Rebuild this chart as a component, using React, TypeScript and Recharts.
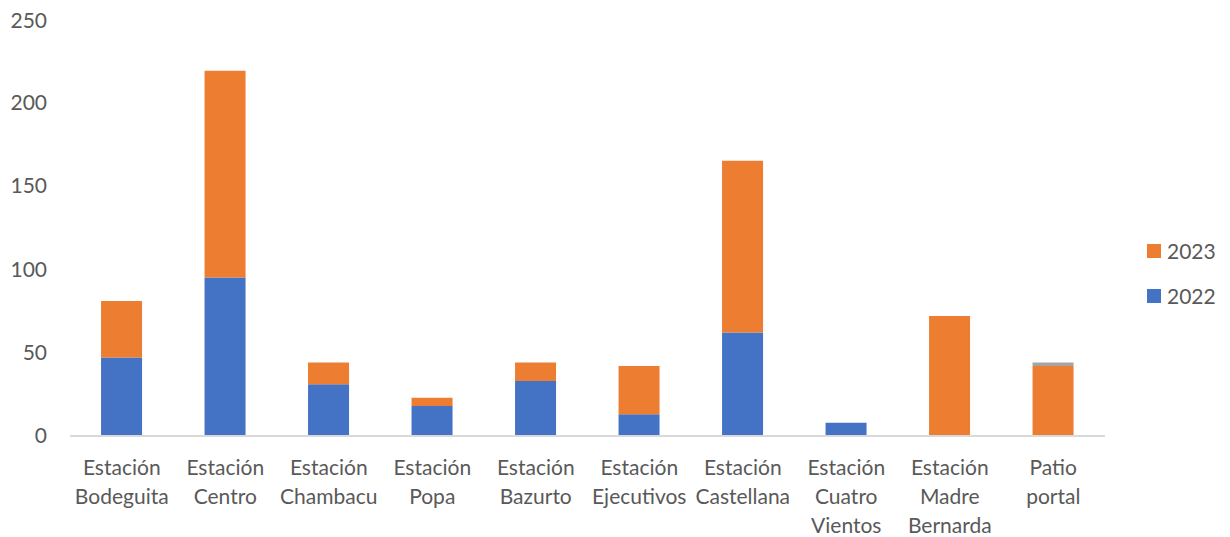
import React from "react";
import { BarChart, Bar, XAxis, YAxis } from "recharts";

const categories = [
  "Estación Bodeguita",
  "Estación Centro",
  "Estación Chambacu",
  "Estación Popa",
  "Estación Bazurto",
  "Estación Ejecutivos",
  "Estación Castellana",
  "Estación Cuatro Vientos",
  "Estación Madre Bernarda",
  "Patio portal",
];
const values2022 = [47, 95, 31, 18, 33, 13, 62, 8, 0, 0];
const values2023 = [34, 124, 13, 5, 11, 29, 103, 0, 72, 42];
const valuesOther = [0, 0, 0, 0, 0, 0, 0, 0, 0, 2];
const yTicks = [0, 50, 100, 150, 200, 250];
const legendItems = [
  { name: "2023", color: "#ED7D31" },
  { name: "2022", color: "#4472C4" },
];

const data = categories.map((c, i) => ({
  name: c,
  y2022: values2022[i],
  y2023: values2023[i],
  other: valuesOther[i],
}));

const FONT = "Lato, 'Open Sans', sans-serif";
const TEXT = "#595959";
const FS = 21;

const CatTick = (props: any) => {
  const { x, y, payload } = props;
  const words = String(payload.value).split(" ");
  return (
    <text x={x} y={y} textAnchor="middle" fill={TEXT} fontSize={FS} fontFamily={FONT}>
      {words.map((w, i) => (
        <tspan key={i} x={x} y={y + 32 + i * 29} dy="0.355em">
          {w}
        </tspan>
      ))}
    </text>
  );
};

export default function App() {
  return (
    <div style={{ position: "relative", width: 1214, height: 529 }}>
      <BarChart
        width={1214}
        height={529}
        data={data}
        margin={{ top: 11, right: 117, bottom: 0, left: 0 }}
        barCategoryGap="30%"
      >
        <XAxis
          dataKey="name"
          interval={0}
          tickLine={false}
          tickSize={0}
          tickMargin={0}
          height={101}
          axisLine={{ stroke: "#d9d9d9", strokeWidth: 2 }}
          tick={<CatTick />}
        />
        <YAxis
          width={62}
          domain={[0, 250]}
          ticks={yTicks}
          axisLine={false}
          tickLine={false}
          tickSize={0}
          tickMargin={23}
          tick={{ fill: TEXT, fontSize: FS, fontFamily: FONT }}
        />
        <Bar dataKey="y2022" name="2022" stackId="a" fill="#4472C4" isAnimationActive={false} />
        <Bar dataKey="y2023" name="2023" stackId="a" fill="#ED7D31" isAnimationActive={false} />
        <Bar dataKey="other" name="" stackId="a" fill="#A5A5A5" legendType="none" isAnimationActive={false} />
      </BarChart>
      {legendItems.map((it, i) => (
        <div
          key={it.name}
          style={{
            position: "absolute",
            left: 1139,
            top: 236 + i * 44.7,
            height: 14,
            display: "flex",
            alignItems: "center",
            fontFamily: FONT,
            fontSize: FS,
            color: TEXT,
            whiteSpace: "nowrap",
          }}
        >
          <span style={{ width: 14, height: 14, background: it.color, display: "inline-block", marginRight: 6 }} />
          <span style={{ lineHeight: "14px" }}>{it.name}</span>
        </div>
      ))}
    </div>
  );
}
